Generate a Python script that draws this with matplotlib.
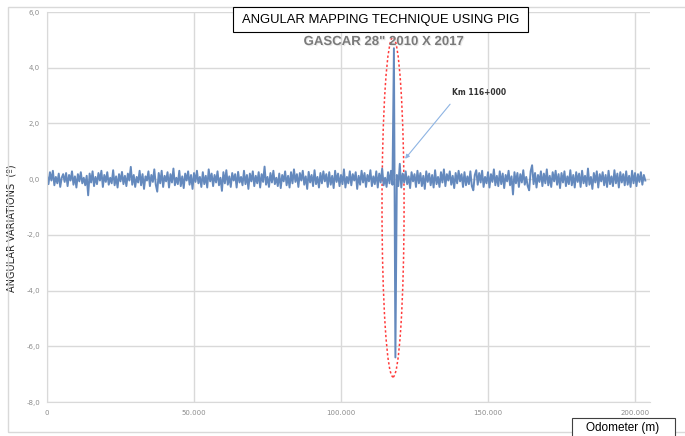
import matplotlib.pyplot as plt
import numpy as np
from matplotlib.patches import Ellipse, Rectangle
from matplotlib.ticker import FuncFormatter
import matplotlib.patheffects as pe

# odometer sampled every 500 m
odometer = np.arange(0, 204000, 500)

angular = [
    0.12, -0.18, 0.25, -0.05, 0.30, -0.22, 0.08, -0.15, 0.20, -0.28, 0.05, 0.18,
    -0.10, 0.22, -0.25, 0.15, -0.05, 0.28, -0.20, 0.10, -0.30, 0.18, -0.08, 0.25,
    -0.15, 0.05, -0.22, 0.12, -0.58, 0.20, -0.12, 0.28, -0.25, 0.08, -0.18, 0.22,
    -0.05, 0.30, -0.28, 0.15, -0.10, 0.25, -0.20, 0.05, -0.15, 0.32, -0.22, 0.10,
    -0.30, 0.18, -0.08, 0.26, -0.18, 0.12, -0.25, 0.20, -0.05, 0.44, -0.20, 0.15,
    -0.28, 0.08, -0.12, 0.30, -0.22, 0.18, -0.35, 0.10, -0.05, 0.28, -0.25, 0.15,
    -0.10, 0.35, -0.20, -0.45, 0.22, -0.15, 0.30, -0.28, 0.12, -0.08, 0.25, -0.30,
    0.18, -0.12, 0.38, -0.22, 0.05, -0.18, 0.30, -0.25, 0.10, -0.32, 0.20, -0.05,
    0.28, -0.20, 0.15, -0.35, 0.22, -0.10, 0.30, -0.15, 0.08, -0.28, 0.25, -0.18,
    0.12, -0.30, 0.35, -0.08, 0.20, -0.25, 0.15, -0.12, 0.28, -0.22, 0.05, -0.42,
    0.25, -0.15, 0.32, -0.20, 0.10, -0.28, 0.22, -0.05, 0.18, -0.30, 0.26, -0.12,
    0.08, -0.22, 0.30, -0.18, 0.15, -0.35, 0.20, -0.08, 0.28, -0.25, 0.12, -0.15,
    0.25, -0.30, 0.18, -0.10, 0.45, -0.20, 0.08, -0.28, 0.22, -0.12, 0.30, -0.18,
    0.05, -0.25, 0.20, -0.32, 0.15, -0.08, 0.28, -0.22, 0.12, -0.30, 0.25, -0.15,
    0.35, -0.10, 0.18, -0.28, 0.22, -0.05, 0.30, -0.20, 0.10, -0.35, 0.26, -0.12,
    0.15, -0.25, 0.32, -0.18, 0.08, -0.30, 0.22, -0.15, 0.28, -0.08, 0.18, -0.28,
    0.25, -0.20, 0.12, -0.32, 0.30, -0.10, 0.20, -0.25, 0.15, -0.18, 0.35, -0.30,
    0.08, -0.15, 0.28, -0.22, 0.18, -0.05, 0.25, -0.35, 0.12, -0.20, 0.30, -0.12,
    0.22, -0.28, 0.15, -0.08, 0.32, -0.25, 0.10, -0.18, 0.28, -0.30, 0.20, -0.12,
    0.38, -0.22, 0.05, -0.28, 0.25, -0.15, 0.30, -0.20, 4.70, -6.40, 0.15, -0.25,
    0.55, -0.30, 0.20, -0.12, 0.28, -0.18, 0.10, -0.32, 0.25, -0.08, 0.18, -0.28,
    0.30, -0.15, 0.22, -0.25, 0.12, -0.35, 0.28, -0.10, 0.20, -0.22, 0.15, -0.30,
    0.32, -0.18, 0.08, -0.28, 0.25, -0.12, 0.35, -0.25, 0.18, -0.05, 0.28, -0.20,
    0.12, -0.32, 0.22, -0.15, 0.30, -0.08, 0.18, -0.28, 0.25, -0.22, 0.10, -0.18,
    0.28, -0.25, -0.40, 0.15, 0.32, -0.20, 0.22, -0.12, 0.30, -0.28, 0.08, -0.15,
    0.25, -0.30, 0.18, -0.10, 0.35, -0.22, 0.12, -0.25, 0.28, -0.18, 0.20, -0.32,
    0.15, -0.08, 0.30, -0.22, 0.10, -0.55, 0.25, -0.15, 0.22, -0.28, 0.18, -0.12,
    0.32, -0.20, 0.08, -0.25, -0.40, 0.28, 0.50, -0.18, 0.22, -0.30, 0.15, -0.10,
    0.28, -0.25, 0.20, -0.15, 0.35, -0.22, 0.12, -0.28, 0.25, -0.08, 0.30, -0.20,
    0.18, -0.32, 0.22, -0.12, 0.28, -0.25, 0.10, -0.18, 0.32, -0.22, 0.15, -0.30,
    0.25, -0.10, 0.20, -0.28, 0.30, -0.15, 0.12, -0.25, 0.38, -0.20, 0.08, -0.35,
    0.22, -0.12, 0.28, -0.30, 0.18, -0.08, 0.25, -0.22, 0.15, -0.28, 0.30, -0.18,
    0.10, -0.25, 0.32, -0.15, 0.20, -0.30, 0.25, -0.12, 0.18, -0.22, 0.28, -0.20,
    0.12, -0.28, 0.30, -0.15, 0.22, -0.25, 0.18, -0.10, 0.25, -0.20, 0.15, -0.05,
]

y_ticks = [-8, -6, -4, -2, 0, 2, 4, 6]
x_ticks = [0, 50000, 100000, 150000, 200000]

fig = plt.figure(figsize=(6.85, 4.36), dpi=100)
ax = fig.add_axes([47/685, 1-402/436, (650-47)/685, 390/436])

ax.plot(odometer, angular, color='#6489bd', lw=1.4)

# red dotted ellipse round the peak
ax.add_patch(Ellipse((117700, -1.0), 7500, 12.2, fill=False, ec='#ff3b3b',
                     ls=(0, (1.5, 1.5)), lw=1.1))

ax.set_xlim(0, 205100)
ax.set_ylim(-8, 6)
ax.set_yticks(y_ticks)
ax.set_xticks(x_ticks)
ax.yaxis.set_major_formatter(FuncFormatter(lambda v, p: f"{v:.1f}".replace('.', ',')))
ax.xaxis.set_major_formatter(FuncFormatter(lambda v, p: f"{int(v):,}".replace(',', '.')))
ax.tick_params(length=0, labelsize=5, labelcolor='#8c8c8c')
ax.tick_params('x', pad=6)
ax.tick_params('y', pad=5)
ax.grid(color='#d9d9d9', lw=1)
ax.set_axisbelow(True)
for s in ['top', 'right']:
    ax.spines[s].set_visible(False)
for s in ['left', 'bottom']:
    ax.spines[s].set_color('#d9d9d9')

ax.set_ylabel('ANGULAR VARIATIONS  (º)', fontsize=7, color='#262626')
ax.yaxis.set_label_coords(-30/603, (402-228)/390)

# outer frame
fig.add_artist(Rectangle((8/685, 1-432/436), 1.0, 425/436, transform=fig.transFigure,
                         fill=False, ec='#d9d9d9', lw=1))

# title box
fig.add_artist(Rectangle((233/685, 1-32/436), 295/685, 25/436, transform=fig.transFigure,
                         fc='white', ec='black', lw=0.8, zorder=5))
fig.text(381/685, 1-19.5/436, 'ANGULAR MAPPING TECHNIQUE USING PIG', ha='center', va='center',
         fontsize=9.4, family='Liberation Sans', zorder=6)
fig.text(384/685, 1-42/436, 'GASCAR 28" 2010 X 2017', ha='center', va='center',
         fontsize=9.5, fontweight='bold', color='#7a7a7a', family='Liberation Sans',
         path_effects=[pe.SimplePatchShadow(offset=(0.8, -0.8), shadow_rgbFace='#bbbbbb'), pe.Normal()])

# Km 116+000 note with its arrow
ax.text(146900, 3.1, 'Km 116+000', ha='center', va='center', fontsize=5.5,
        fontweight='bold', color='#333333')
ax.annotate('', xy=(121800, 0.73), xytext=(137100, 2.69),
            arrowprops=dict(arrowstyle='-|>', color='#8eb4e3', lw=0.8, mutation_scale=6,
                            shrinkA=0, shrinkB=0))

# odometer box
fig.add_artist(Rectangle((572/685, 1-445/436), 103/685, 27/436, transform=fig.transFigure,
                         fc='white', ec='#404040', lw=0.8))
fig.text(623/685, 1-428/436, 'Odometer (m)', ha='center', va='center', fontsize=8.5,
         family='Liberation Sans')

fig.savefig('out.png', dpi=100)
